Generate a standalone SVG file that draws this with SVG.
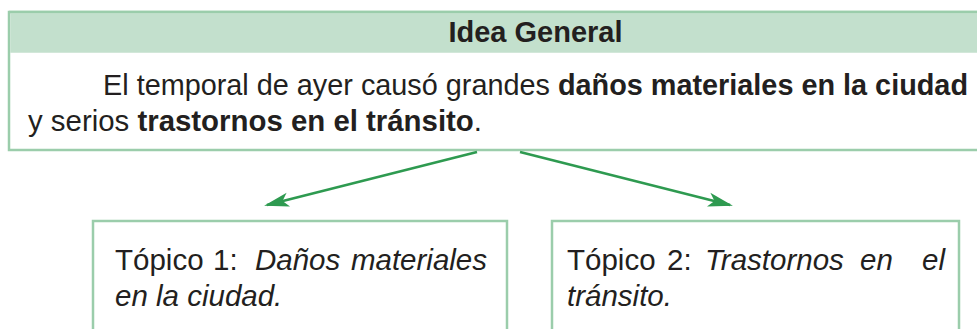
<svg xmlns="http://www.w3.org/2000/svg" width="977" height="329" viewBox="0 0 977 329">
<style>
  .t { font-family: "Liberation Sans", Arial, Helvetica, sans-serif; fill: #231f20; }
  .b { font-weight: bold; }
  .i { font-style: italic; }
  .s { font-size: 29.5px; }
  .box { fill: #ffffff; stroke: #9bcdab; stroke-width: 2.5; }
  .hdr { fill: #c3e0cd; }
  .conn { stroke: #2e9a50; stroke-width: 2.5; fill: none; }
</style>
<defs>
  <marker id="ah" markerUnits="userSpaceOnUse" viewBox="-24 -9 28 18" refX="0" refY="0" markerWidth="28" markerHeight="18" orient="auto">
    <path d="M3,0 L-22,-7 L-16,0 L-22,7 Z" fill="#2e9a50"/>
  </marker>
</defs>
<rect width="977" height="329" fill="#ffffff"/>
<g id="idea-general">
  <rect class="box" x="9" y="12" width="985" height="138"/>
  <rect class="hdr" x="10.25" y="13.25" width="985" height="39.5"/>
  <line x1="9" y1="12" x2="977" y2="12" stroke="#9bcdab" stroke-width="2.5"/>
  <text class="t b" x="535.5" y="41.5" font-size="29" text-anchor="middle">Idea General</text>
  <text class="t" x="103" y="95" font-size="29" textLength="865" lengthAdjust="spacingAndGlyphs">El temporal de ayer causó grandes <tspan class="b">daños materiales en la ciudad</tspan></text>
  <text class="t" x="28" y="131" font-size="29" textLength="454" lengthAdjust="spacingAndGlyphs">y serios <tspan class="b">trastornos en el tránsito</tspan>.</text>
</g>
<g id="connectors">
  <line class="conn" x1="477" y1="152" x2="267" y2="205" marker-end="url(#ah)"/>
  <line class="conn" x1="520" y1="152" x2="730" y2="205" marker-end="url(#ah)"/>
</g>
<g id="topico-1">
  <rect class="box" x="93" y="221" width="414" height="130"/>
  <text class="t s" y="270"><tspan x="115">Tópico</tspan><tspan x="213">1:</tspan><tspan class="i" x="255">Daños</tspan></text>
  <text class="t i s" x="487" y="270" text-anchor="end">materiales</text>
  <text class="t i s" x="115" y="306">en la ciudad.</text>
</g>
<g id="topico-2">
  <rect class="box" x="552" y="221" width="407" height="130"/>
  <text class="t s" y="270"><tspan x="567">Tópico</tspan><tspan x="667">2:</tspan><tspan class="i" x="705">Trastornos</tspan><tspan class="i" x="860">en</tspan></text>
  <text class="t i s" x="945" y="270" text-anchor="end">el</text>
  <text class="t i s" x="567" y="306">tránsito.</text>
</g>
</svg>
